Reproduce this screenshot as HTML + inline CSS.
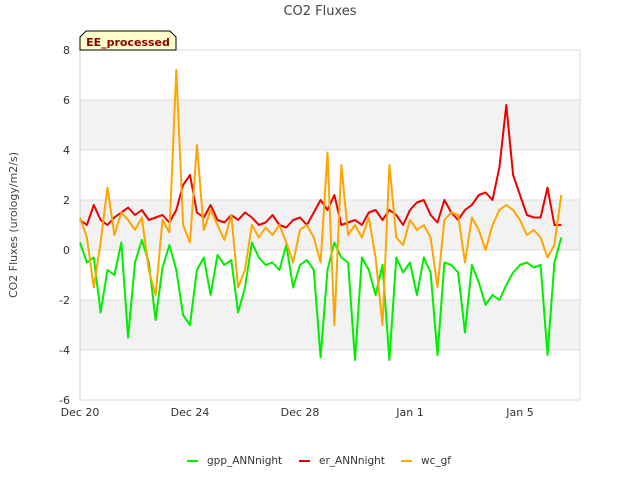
<!DOCTYPE html>
<html><head><meta charset="utf-8"><style>
body{margin:0;background:#fff;font-family:"DejaVu Sans","Liberation Sans",sans-serif;}
</style></head><body>
<svg width="640" height="480" font-family="DejaVu Sans, Liberation Sans, sans-serif">
<text x="320" y="15" text-anchor="middle" font-size="13" fill="#444">CO2 Fluxes</text>
<g id="bands"></g>
<g id="grid"></g>
<g id="ticks"></g>
<g id="series"></g>
<text transform="translate(17,225) rotate(-90)" text-anchor="middle" font-size="11" fill="#444">CO2 Fluxes (urology/m2/s)</text>
<g>
<path d="M80,37 L86,31 L170,31 L176,37 L176,50 L80,50 Z" fill="#ffffcc" stroke="#000" stroke-width="1"/>
<text x="128" y="46" text-anchor="middle" font-size="11" font-weight="bold" fill="#8b0000">EE_processed</text>
</g>
<g id="legend"></g>
</svg>
<script>
const dayStep = 0.25;
const gpp = [0.3,-0.5,-0.3,-2.5,-0.8,-1.0,0.3,-3.5,-0.5,0.4,-0.5,-2.8,-0.7,0.2,-0.8,-2.6,-3.0,-0.8,-0.3,-1.8,-0.2,-0.6,-0.4,-2.5,-1.5,0.3,-0.3,-0.6,-0.5,-0.8,0.2,-1.5,-0.6,-0.4,-0.8,-4.3,-0.8,0.3,-0.3,-0.5,-4.4,-0.3,-0.8,-1.8,-0.6,-4.4,-0.3,-0.9,-0.5,-1.8,-0.3,-0.9,-4.2,-0.5,-0.6,-0.9,-3.3,-0.6,-1.3,-2.2,-1.8,-2.0,-1.4,-0.9,-0.6,-0.5,-0.7,-0.6,-4.2,-0.5,0.5];
const er = [1.2,1.0,1.8,1.2,1.0,1.3,1.5,1.7,1.4,1.6,1.2,1.3,1.4,1.1,1.6,2.6,3.0,1.5,1.3,1.8,1.2,1.1,1.4,1.2,1.5,1.3,1.0,1.1,1.4,1.0,0.9,1.2,1.3,1.0,1.5,2.0,1.6,2.2,1.0,1.1,1.2,1.0,1.5,1.6,1.2,1.6,1.4,1.0,1.6,1.9,2.0,1.4,1.1,2.0,1.5,1.2,1.6,1.8,2.2,2.3,2.0,3.3,5.8,3.0,2.2,1.4,1.3,1.3,2.5,1.0,1.0];
const wc = [1.3,0.5,-1.5,0.3,2.5,0.6,1.5,1.2,0.8,1.3,-0.8,-1.8,1.2,0.7,7.2,1.0,0.3,4.2,0.8,1.6,1.0,0.4,1.4,-1.5,-0.8,1.0,0.5,0.9,0.6,1.0,0.3,-0.5,0.8,1.0,0.5,-0.5,3.9,-3.0,3.4,0.6,1.0,0.5,1.3,-0.3,-3.0,3.4,0.5,0.2,1.2,0.8,1.0,0.5,-1.5,1.2,1.5,1.4,-0.5,1.3,0.8,0.0,1.0,1.6,1.8,1.6,1.2,0.6,0.8,0.5,-0.3,0.2,2.2];
const yTicks = [8,6,4,2,0,-2,-4,-6];
const xTickDays = [0,4,8,12,16];
const xTickLabels = ["Dec 20","Dec 24","Dec 28","Jan 1","Jan 5"];
const seriesNames = ["gpp_ANNnight","er_ANNnight","wc_gf"];
const seriesColors = ["#00ee00","#ee0000","#ffa500"];

const NS="http://www.w3.org/2000/svg";
const X0=80,X1=580,Y0=50,Y1=400;
const xs=d=>X0+d*27.5;
const ys=v=>Y0+(8-v)*(Y1-Y0)/14;
function mk(tag,attrs,parent){const e=document.createElementNS(NS,tag);for(const k in attrs)e.setAttribute(k,attrs[k]);parent.appendChild(e);return e;}
const bands=document.getElementById('bands'),grid=document.getElementById('grid'),ticks=document.getElementById('ticks'),ser=document.getElementById('series'),leg=document.getElementById('legend');
[[6,4],[2,0],[-2,-4]].forEach(b=>{const r=mk('rect',{x:X0,y:ys(b[0]),width:X1-X0,height:ys(b[1])-ys(b[0]),fill:'#f2f2f2'},bands);

});
mk('rect',{x:X0,y:Y0,width:X1-X0,height:Y1-Y0,fill:'none',stroke:'#ddd'},grid);
yTicks.forEach(v=>{mk('line',{x1:X0,x2:X1,y1:ys(v),y2:ys(v),stroke:'#ddd'},grid);
const t=mk('text',{x:X0-10,y:ys(v)+4,'text-anchor':'end','font-size':11,fill:'#333'},ticks);t.textContent=v;

});
mk('line',{x1:X0,x2:X0,y1:Y0,y2:Y1,stroke:'#ccc'},grid);
xTickDays.forEach((d,i)=>{const t=mk('text',{x:xs(d),y:Y1+16,'text-anchor':'middle','font-size':11,fill:'#333'},ticks);t.textContent=xTickLabels[i];

});
[gpp,er,wc].forEach((arr,si)=>{const pts=arr.map((v,i)=>xs(i*dayStep).toFixed(1)+','+ys(v).toFixed(1)).join(' ');
const p=mk('polyline',{points:pts,fill:'none',stroke:seriesColors[si],'stroke-width':2,'stroke-linejoin':'round'},ser);

});
const lx=[187,299,401];
seriesNames.forEach((n,i)=>{const g=mk('g',{},leg);


mk('line',{x1:lx[i],x2:lx[i]+11,y1:461,y2:461,stroke:seriesColors[i],'stroke-width':2},g);
const t=mk('text',{x:lx[i]+20,y:464,'font-size':10.5,fill:'#333'},g);t.textContent=n;});
</script>
</body></html>
